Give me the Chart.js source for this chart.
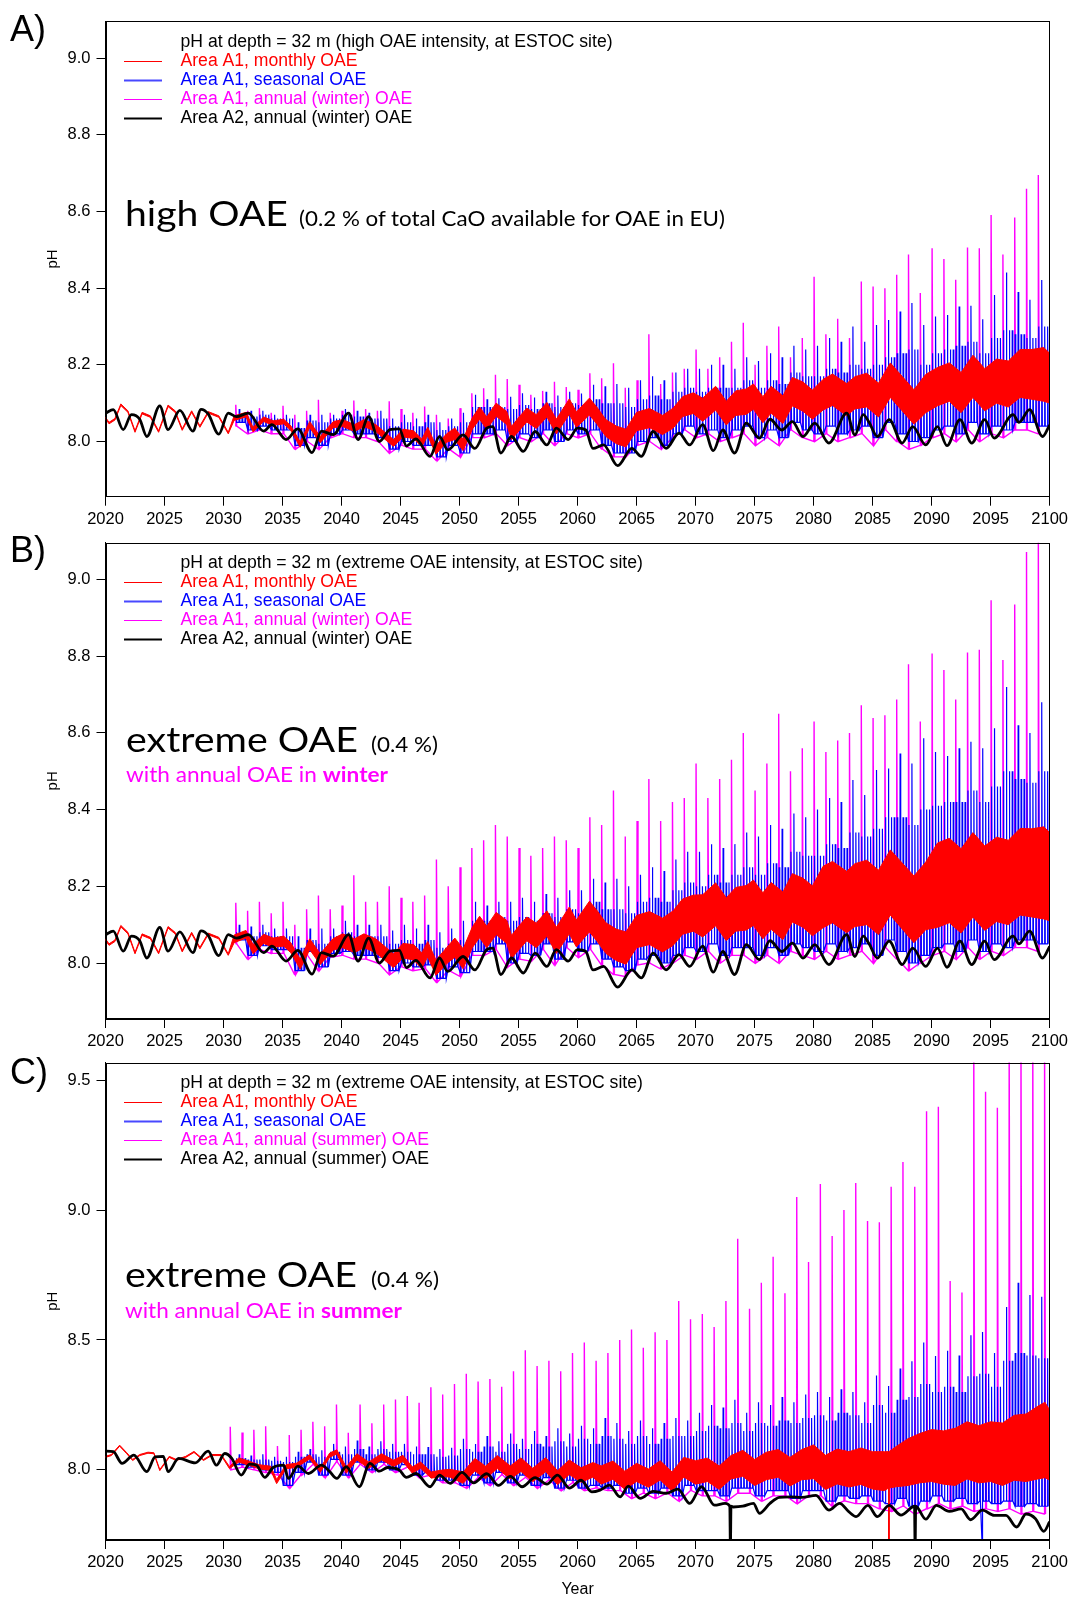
<!DOCTYPE html>
<html>
<head>
<meta charset="utf-8">
<script src="https://cdn.jsdelivr.net/npm/chart.js@4.4.1/dist/chart.umd.min.js"></script>
<style>
  html, body { margin: 0; padding: 0; background: #fff; }
  #page { position: relative; width: 1072px; height: 1599px; overflow: hidden; }
  canvas { position: absolute; left: 0; }
  .lbl { position: absolute; font-family: "Liberation Sans", Arial, sans-serif; font-size: 36px; line-height: 36px; color: #000; }
  .note { position: absolute; font-family: Lato, "Open Sans", sans-serif; white-space: nowrap; transform-origin: 0 0; color: #000; }
  .big { font-size: 35px; line-height: 35px; }
  .small { font-size: 21px; line-height: 21px; }
  .mag { font-size: 21px; line-height: 21px; color: #ff00ff; }
</style>
</head>
<body>
<div id="page">
  <canvas id="chartA" width="1072" height="545" style="top:0px"></canvas>
  <canvas id="chartB" width="1072" height="545" style="top:522px"></canvas>
  <canvas id="chartC" width="1072" height="558" style="top:1041px"></canvas>

  <div class="lbl" style="left:10px;top:11px">A)</div>
  <div class="lbl" style="left:10px;top:532px">B)</div>
  <div class="lbl" style="left:10px;top:1054px">C)</div>

  <div class="note big" data-w="163" style="left:125px;top:195px">high OAE</div>
  <div class="note small" data-w="426" style="left:299px;top:207px">(0.2 % of total CaO available for OAE in EU)</div>

  <div class="note big" data-w="232" style="left:126px;top:721px">extreme OAE</div>
  <div class="note small" data-w="67" style="left:371px;top:733px">(0.4 %)</div>
  <div class="note mag" data-w="262" style="left:126px;top:763px">with annual OAE in <b>winter</b></div>

  <div class="note big" data-w="232" style="left:125px;top:1256px">extreme OAE</div>
  <div class="note small" data-w="68" style="left:371px;top:1268px">(0.4 %)</div>
  <div class="note mag" data-w="277" style="left:125px;top:1299px">with annual OAE in <b>summer</b></div>
</div>

<script>
// tick labels
const xTicks = [2020, 2025, 2030, 2035, 2040, 2045, 2050, 2055, 2060, 2065, 2070, 2075, 2080, 2085, 2090, 2095, 2100];
const yTicksAB = [8.0, 8.2, 8.4, 8.6, 8.8, 9.0];
const yTicksC = [8.0, 8.5, 9.0, 9.5];

// black: Area A2 (traced points [year, pH])
const blackWinter = [[2020.0,8.074],[2020.66,8.083],[2021.5,8.031],[2022.2,8.07],[2022.9,8.058],[2023.5,8.013],[2024.6,8.093],[2025.3,8.031],[2026.3,8.081],[2027.4,8.027],[2028.1,8.084],[2028.7,8.072],[2029.6,8.019],[2030.4,8.074],[2031.1,8.065],[2032.1,8.074],[2033.4,8.027],[2034.1,8.044],[2035.3,8.005],[2036.3,8.033],[2037.5,7.971],[2038.3,8.027],[2039.3,8.018],[2040.6,8.074],[2041.4,8.005],[2042.3,8.065],[2043.2,8.0],[2044.1,8.031],[2044.9,8.033],[2045.5,7.988],[2046.3,8.007],[2047.5,7.961],[2048.3,8.013],[2049.0,7.978],[2050.3,8.017],[2051.3,7.982],[2052.3,8.035],[2052.8,8.039],[2053.5,7.970],[2054.4,8.013],[2055.4,7.974],[2056.4,8.026],[2057.4,7.991],[2058.2,8.035],[2059.2,8.005],[2060.0,8.035],[2060.7,8.03],[2061.3,7.982],[2062.2,7.991],[2063.4,7.937],[2064.6,7.982],[2065.4,7.961],[2066.4,8.026],[2067.5,7.982],[2068.6,8.022],[2069.5,7.991],[2070.6,8.044],[2071.5,7.976],[2072.3,8.03],[2073.3,7.970],[2074.3,8.048],[2075.4,8.009],[2076.3,8.058],[2077.3,8.03],[2078.2,8.052],[2079.1,8.013],[2080.1,8.048],[2081.3,7.996],[2082.8,8.074],[2083.5,8.017],[2084.2,8.07],[2084.7,8.05],[2085.4,8.013],[2086.4,8.057],[2087.5,7.996],[2088.4,8.039],[2089.5,7.991],[2090.5,8.039],[2091.3,7.989],[2092.4,8.057],[2093.4,7.996],[2094.5,8.057],[2095.3,8.009],[2096.9,8.07],[2097.4,8.05],[2098.3,8.083],[2099.4,8.013],[2100.0,8.043]];
const blackSummer = [[2020.0,8.072],[2020.66,8.07],[2021.4,8.025],[2022.4,8.057],[2023.5,7.993],[2024.2,8.05],[2024.9,8.052],[2025.3,7.993],[2026.2,8.044],[2027.6,8.027],[2028.7,8.072],[2029.4,8.018],[2030.1,8.063],[2030.7,8.044],[2031.5,7.98],[2032.2,8.022],[2032.8,8.018],[2033.5,7.971],[2034.2,8.009],[2035.1,8.018],[2035.5,7.967],[2036.3,8.014],[2037.2,7.986],[2038.3,8.018],[2039.0,7.993],[2039.6,7.967],[2040.4,8.012],[2041.5,7.935],[2042.4,8.025],[2043.2,7.995],[2043.9,8.009],[2044.9,7.999],[2045.5,7.971],[2046.3,7.986],[2047.5,7.935],[2048.3,7.98],[2049.2,7.948],[2050.2,7.99],[2051.2,7.95],[2052.3,7.985],[2053.3,7.94],[2054.3,7.975],[2055.3,7.935],[2056.4,7.97],[2057.4,7.945],[2058.3,7.98],[2059.3,7.93],[2060.3,7.96],[2061.2,7.915],[2061.9,7.922],[2062.7,7.941],[2063.6,7.896],[2064.3,7.937],[2065.3,7.89],[2066.4,7.917],[2067.5,7.91],[2068.5,7.926],[2069.5,7.871],[2070.5,7.935],[2071.6,7.864],[2072.5,7.871],[2072.9,7.86],[2072.95,7.70],[2073.0,7.86],[2073.2,7.857],[2074.0,7.86],[2074.9,7.871],[2075.4,7.833],[2076.3,7.871],[2077.1,7.894],[2078.1,7.896],[2079.0,7.894],[2080.2,7.902],[2081.3,7.845],[2082.2,7.871],[2083.0,7.838],[2083.6,7.82],[2084.6,7.863],[2085.4,7.82],[2086.4,7.863],[2087.4,7.826],[2088.55,7.86],[2088.6,7.70],[2088.65,7.86],[2089.5,7.81],[2090.4,7.863],[2091.5,7.84],[2092.5,7.85],[2093.3,7.808],[2094.3,7.845],[2095.3,7.825],[2096.3,7.825],[2097.2,7.78],[2098.0,7.83],[2098.8,7.812],[2099.5,7.763],[2100.0,7.80]];

// red: Area A1 monthly OAE, band rows [year, low edge, high edge]
const redEarly = [[2020.0,8.059,8.063],[2020.3,8.046,8.05],[2020.8,8.056,8.06],[2021.3,8.094,8.098],[2021.9,8.076,8.08],[2022.5,8.024,8.028],[2023.1,8.072,8.076],[2023.8,8.063,8.067],[2024.5,8.024,8.028],[2025.3,8.091,8.095],[2025.9,8.076,8.08],[2026.5,8.029,8.033],[2027.3,8.076,8.08],[2028.0,8.037,8.041],[2028.7,8.074,8.078],[2029.6,8.063,8.067],[2030.4,8.02,8.024]];
const redLateA = [[2030.9,8.055,8.067],[2031.9,8.064,8.076],[2032.5,8.025,8.037],[2033.4,8.052,8.064],[2034.2,8.042,8.054],[2035.1,8.046,8.058],[2035.7,8.029,8.041],[2036.5,7.985,7.999],[2037.3,8.036,8.052],[2038.2,7.997,8.013],[2039.3,8.036,8.052],[2040.1,8.039,8.057],[2041.1,8.026,8.044],[2041.9,8.039,8.057],[2042.9,8.026,8.044],[2044.4,7.987,8.005],[2045.2,8.012,8.032],[2046.1,8.008,8.028],[2046.8,7.986,8.006],[2047.3,8.015,8.037],[2048.0,7.967,7.989],[2048.9,7.998,8.02],[2049.6,8.005,8.035],[2050.3,7.976,8.006],[2051.1,8.033,8.063],[2051.7,8.058,8.09],[2052.3,8.032,8.064],[2053.1,8.066,8.1],[2054.0,8.044,8.078],[2054.4,8.005,8.039],[2055.1,8.03,8.066],[2055.7,8.051,8.087],[2056.5,8.034,8.07],[2057.4,8.064,8.102],[2058.2,8.02,8.058],[2059.3,8.071,8.111],[2059.9,8.037,8.077],[2061.0,8.069,8.113],[2061.6,8.047,8.091],[2062.4,8.013,8.057],[2063.3,7.994,8.04],[2064.1,7.986,8.032],[2065.0,8.028,8.076],[2066.1,8.036,8.086],[2067.2,8.018,8.068],[2068.1,8.035,8.087],[2068.9,8.065,8.117],[2069.8,8.073,8.127],[2070.6,8.053,8.113],[2071.7,8.082,8.144],[2072.6,8.043,8.105],[2073.4,8.068,8.132],[2074.3,8.071,8.137],[2074.9,8.084,8.15],[2075.7,8.049,8.117],[2076.4,8.074,8.144],[2077.4,8.047,8.119],[2078.2,8.093,8.167],[2079.1,8.079,8.155],[2079.9,8.058,8.134],[2080.8,8.082,8.162],[2081.6,8.094,8.176],[2082.8,8.067,8.151],[2083.5,8.085,8.169],[2084.5,8.09,8.178],[2085.5,8.064,8.152],[2086.5,8.115,8.205],[2087.5,8.08,8.17],[2088.5,8.045,8.135],[2089.5,8.075,8.175],[2090.5,8.093,8.193],[2091.5,8.105,8.205],[2092.5,8.075,8.18],[2093.5,8.115,8.225],[2094.5,8.08,8.19],[2095.5,8.1,8.215],[2096.5,8.09,8.21],[2097.5,8.115,8.24],[2098.5,8.11,8.24],[2099.5,8.105,8.245],[2100.0,8.1,8.23]];
const redLateB = [[2030.9,8.053,8.073],[2031.9,8.065,8.085],[2032.5,8.024,8.048],[2033.4,8.051,8.075],[2034.2,8.041,8.065],[2035.1,8.044,8.07],[2035.7,8.027,8.053],[2036.5,7.984,8.01],[2037.3,8.035,8.063],[2038.2,7.996,8.024],[2039.3,8.034,8.064],[2040.1,8.04,8.076],[2041.1,8.027,8.063],[2041.9,8.04,8.076],[2042.9,8.027,8.063],[2044.4,7.988,8.024],[2045.2,8.013,8.051],[2046.1,8.008,8.048],[2046.8,7.986,8.026],[2047.3,8.016,8.056],[2048.0,7.968,8.008],[2048.9,7.998,8.04],[2049.6,8.015,8.065],[2050.3,7.985,8.037],[2051.1,8.041,8.095],[2051.7,8.066,8.122],[2052.3,8.04,8.096],[2053.1,8.074,8.132],[2054.0,8.051,8.111],[2054.4,8.012,8.072],[2055.1,8.037,8.099],[2055.7,8.058,8.12],[2056.5,8.04,8.104],[2057.4,8.07,8.136],[2058.2,8.025,8.093],[2059.3,8.076,8.146],[2059.9,8.042,8.112],[2061.0,8.081,8.161],[2061.6,8.059,8.139],[2062.4,8.025,8.105],[2063.3,8.006,8.088],[2064.1,7.997,8.081],[2065.0,8.04,8.124],[2066.1,8.048,8.134],[2067.2,8.029,8.117],[2068.1,8.046,8.136],[2068.9,8.075,8.167],[2069.8,8.083,8.177],[2070.6,8.068,8.178],[2071.7,8.097,8.209],[2072.6,8.058,8.17],[2073.4,8.083,8.197],[2074.3,8.086,8.202],[2074.9,8.098,8.216],[2075.7,8.063,8.183],[2076.4,8.088,8.21],[2077.4,8.061,8.185],[2078.2,8.107,8.233],[2079.1,8.093,8.221],[2079.9,8.071,8.201],[2080.8,8.092,8.252],[2081.6,8.105,8.265],[2082.8,8.079,8.239],[2083.5,8.095,8.259],[2084.5,8.1,8.268],[2085.5,8.074,8.242],[2086.5,8.125,8.295],[2087.5,8.089,8.261],[2088.5,8.053,8.227],[2089.5,8.087,8.263],[2090.5,8.093,8.313],[2091.5,8.105,8.325],[2092.5,8.078,8.298],[2093.5,8.12,8.34],[2094.5,8.085,8.305],[2095.5,8.108,8.328],[2096.5,8.1,8.32],[2097.5,8.125,8.351],[2098.5,8.12,8.35],[2099.5,8.115,8.355],[2100.0,8.11,8.34]];
const redC = [[2020.0,8.048,8.052],[2020.5,8.055,8.059],[2021.2,8.091,8.095],[2021.8,8.062,8.066],[2022.3,8.036,8.04],[2022.9,8.055,8.059],[2023.6,8.064,8.068],[2024.1,8.062,8.066],[2024.6,7.997,8.001],[2025.4,8.048,8.052],[2026.0,8.036,8.04],[2026.8,8.048,8.052],[2027.5,8.067,8.071],[2028.3,8.036,8.04],[2029.0,8.055,8.059],[2029.8,8.055,8.059],[2030.5,8.005,8.013],[2031.3,8.03,8.046],[2032.2,8.017,8.033],[2033.0,8.004,8.02],[2034.0,7.998,8.014],[2034.5,7.947,7.963],[2035.3,8.004,8.02],[2036.2,8.01,8.026],[2037.3,8.042,8.058],[2038.2,7.991,8.007],[2039.0,8.049,8.065],[2039.6,8.061,8.077],[2040.4,7.987,8.011],[2041.3,8.038,8.062],[2042.3,8.006,8.03],[2043.4,8.038,8.062],[2044.4,8.013,8.037],[2045.2,8.032,8.056],[2046.0,7.987,8.011],[2046.7,8.006,8.03],[2047.6,7.968,7.992],[2048.5,7.975,7.999],[2049.2,7.972,8.002],[2050.3,7.948,7.992],[2051.3,7.996,8.044],[2052.2,7.966,8.014],[2053.2,8.005,8.055],[2054.3,7.965,8.015],[2055.2,7.994,8.046],[2056.2,7.954,8.006],[2057.3,7.993,8.047],[2058.3,7.943,7.997],[2059.3,7.982,8.038],[2060.3,7.952,8.008],[2061.3,7.972,8.028],[2062.0,7.945,8.015],[2063.0,7.964,8.034],[2064.0,7.925,7.995],[2065.0,7.955,8.025],[2066.0,7.933,8.003],[2067.0,7.961,8.035],[2068.0,7.918,7.992],[2069.0,7.972,8.048],[2070.0,7.945,8.035],[2071.0,7.955,8.045],[2072.0,7.925,8.015],[2073.0,7.965,8.055],[2074.0,7.975,8.075],[2075.0,7.94,8.04],[2076.0,7.962,8.068],[2077.0,7.972,8.078],[2078.0,7.938,8.048],[2079.0,7.962,8.078],[2080.0,7.966,8.096],[2081.0,7.924,8.056],[2082.0,7.946,8.08],[2083.0,7.934,8.07],[2084.0,7.944,8.084],[2085.0,7.926,8.07],[2086.0,7.92,8.07],[2086.35,7.93,8.07],[2086.37,7.70,7.70],[2086.39,7.93,8.07],[2087.0,7.935,8.09],[2088.0,7.94,8.12],[2089.0,7.95,8.14],[2090.0,7.955,8.155],[2091.0,7.945,8.15],[2092.0,7.94,8.16],[2093.0,7.965,8.185],[2094.0,7.95,8.17],[2095.0,7.955,8.185],[2096.0,7.94,8.18],[2097.0,7.96,8.21],[2098.0,7.955,8.215],[2099.0,7.965,8.245],[2099.6,7.97,8.26],[2100.0,7.96,8.23]];

// blue: Area A1 seasonal OAE, one value per year from 2031 (low, tallest spike, typical spike)
const blueLowA = [8.05,8.03,8.04,8.03,8.03,7.99,8.01,7.99,8.02,8.03, 8.02,8.02,8.01,7.98,8.0,7.99,7.99,7.96,7.99,7.97, 8.02,8.02,8.03,8.0,8.02,8.01,8.03,8.0,8.03,8.02, 8.03,7.99,7.97,7.97,8.0,8.01,7.99,8.02,8.04,8.02, 8.03,8.01,8.03,8.04,8.01,8.03,8.01,8.05,8.03,8.02, 8.04,8.02,8.03,8.04,8.01,8.05,8.02,8.0,8.01,8.03, 8.04,8.02,8.05,8.02,8.04,8.03,8.05,8.05,8.04];
const blueTopA = [8.085,8.08,8.08,8.07,8.07,8.05,8.07,8.07,8.07,8.085,8.08,8.075,8.08,8.06,8.07,8.06,8.07,8.05,8.06, 8.075,8.122,8.11,8.113,8.117,8.126,8.115,8.13,8.12,8.13,8.125,8.148,8.144, 8.15,8.14,8.16,8.17,8.16,8.18,8.19,8.19,8.2,8.2,8.19,8.22,8.21,8.23,8.22,8.25,8.24,8.25,8.27,8.26,8.3, 8.26,8.304,8.317,8.339,8.361,8.304,8.326,8.33,8.352,8.354,8.319,8.382,8.441,8.39,8.37,8.421];
const blueMidA = [8.07,8.065,8.07,8.06,8.06,8.035,8.055,8.05,8.06,8.07, 8.065,8.06,8.06,8.04,8.05,8.04,8.05,8.03,8.04,8.05, 8.09,8.09,8.09,8.085,8.095,8.085,8.1,8.09,8.1,8.095, 8.11,8.1,8.1,8.09,8.11,8.12,8.11,8.13,8.14,8.13, 8.14,8.14,8.14,8.16,8.14,8.16,8.15,8.18,8.17,8.17, 8.19,8.18,8.2,8.19,8.2,8.22,8.23,8.24,8.2,8.23, 8.24,8.25,8.26,8.23,8.27,8.29,8.28,8.27,8.3];
const blueLowB = [8.06,8.02,8.045,8.035,8.035,7.98,8.03,7.99,8.025,8.03, 8.02,8.02,8.015,7.98,8.0,7.99,7.995,7.96,7.99,7.975, 8.03,8.03,8.05,8.0,8.025,8.02,8.05,8.01,8.055,8.03, 8.05,8.01,7.99,7.98,8.01,8.02,8.0,8.02,8.04,8.03, 8.05,8.02,8.04,8.04,8.02,8.04,8.02,8.05,8.04,8.03, 8.05,8.03,8.04,8.05,8.02,8.06,8.03,8.0,8.02,8.04, 8.05,8.03,8.06,8.03,8.05,8.04,8.06,8.06,8.05];
const blueTopB = [8.1,8.095,8.1,8.09,8.09,8.07,8.09,8.09,8.09,8.11, 8.1,8.1,8.1,8.085,8.1,8.09,8.1,8.08,8.09,8.11, 8.16,8.15,8.16,8.16,8.17,8.16,8.18,8.17,8.19,8.19, 8.22,8.21,8.22,8.2,8.23,8.25,8.24,8.27,8.29,8.29, 8.31,8.3,8.31,8.34,8.33,8.36,8.35,8.39,8.38,8.4, 8.43,8.42,8.477,8.438,8.503,8.507,8.546,8.52,8.586,8.55, 8.54,8.56,8.577,8.56,8.612,8.72,8.62,8.6,8.68];
const blueMidB = [8.08,8.07,8.08,8.07,8.07,8.04,8.06,8.05,8.07,8.08, 8.07,8.07,8.07,8.05,8.06,8.05,8.06,8.04,8.05,8.06, 8.11,8.11,8.12,8.11,8.12,8.11,8.13,8.12,8.14,8.13, 8.16,8.14,8.14,8.13,8.16,8.17,8.16,8.19,8.21,8.2, 8.23,8.21,8.23,8.25,8.23,8.26,8.25,8.29,8.28,8.28, 8.31,8.3,8.34,8.33,8.35,8.38,8.38,8.36,8.4,8.41, 8.42,8.42,8.45,8.42,8.46,8.5,8.48,8.47,8.5];
const blueLowC = [8.02,8.01,8.0,7.99,7.94,7.99,8.03,7.98,8.04,7.98,8.03,8.0,8.03,8.0,8.02,7.98,7.99,7.96,7.96, 7.94,7.98,7.95,7.99,7.95,7.98,7.94,7.97,7.93,7.96,7.93,7.94,7.93, 7.94,7.91,7.93,7.91,7.93,7.9,7.94,7.92,7.92,7.9,7.93,7.93,7.9,7.92,7.92,7.89,7.92,7.92,7.88,7.9,7.89, 7.9,7.88,7.87,7.89,7.86,7.88,7.9,7.88,7.89,7.87,7.88,7.87,7.88,7.86,7.87,7.86];
const blueTopC = [8.06,8.055,8.06,8.05,8.05,8.07,8.08,8.075,8.1,8.09,8.113,8.09,8.11,8.1,8.1,8.09,8.088,8.08,8.085, 8.12,8.1,8.13,8.11,8.14,8.12,8.15,8.13,8.16,8.14,8.17,8.16,8.2, 8.18,8.15,8.19,8.16,8.18,8.2,8.19,8.22,8.25,8.24,8.27,8.22,8.26,8.25,8.28,8.26,8.29,8.3,8.28,8.31,8.3, 8.26,8.363,8.323,8.39,8.418,8.49,8.438,8.458,8.44,8.518,8.531,8.45,8.627,8.72,8.673,8.666];
const blueMidC = [8.045,8.04,8.04,8.035,8.03,8.05,8.06,8.05,8.07,8.06,8.08,8.06,8.08,8.07,8.07,8.06,8.06,8.05,8.055, 8.08,8.07,8.09,8.07,8.1,8.08,8.1,8.09,8.11,8.09,8.12,8.1,8.13, 8.12,8.1,8.13,8.1,8.12,8.13,8.13,8.15,8.17,8.16,8.18,8.15,8.18,8.17,8.19,8.18,8.2,8.21,8.19,8.22,8.21, 8.18,8.25,8.22,8.27,8.28,8.33,8.3,8.32,8.3,8.36,8.37,8.32,8.42,8.45,8.44,8.43];
const blueGlitchC = [[2094.3, 7.70]];

// magenta: Area A1 annual OAE, one value per year (low before the spike, spike top)
const magLowA = [8.04,8.02,8.03,8.02,8.02,7.98,8.0,7.98,8.01,8.02, 8.01,8.01,8.0,7.97,7.99,7.98,7.98,7.95,7.98,7.96, 8.01,8.01,8.02,7.99,8.01,8.0,8.02,7.99,8.02,8.01, 8.02,7.98,7.96,7.96,7.99,8.0,7.98,8.01,8.03,8.01, 8.02,8.0,8.01,8.02,7.99,8.01,7.99,8.03,8.01,8.0, 8.02,8.0,8.01,8.02,7.99,8.03,8.0,7.98,7.99,8.01, 8.02,8.0,8.03,8.0,8.02,8.01,8.03,8.03,8.02];
const magPeakA = [8.096,8.08,8.087,8.075,8.093,8.07,8.08,8.109,8.075,8.08,8.107,8.085,8.08,8.105,8.085,8.075,8.091,8.07,8.06, 8.087,8.126,8.139,8.174,8.163,8.148,8.122,8.132,8.156,8.142,8.135,8.178,8.165, 8.204,8.14,8.16,8.28,8.15,8.18,8.19,8.24,8.19,8.22,8.26,8.31,8.2,8.25,8.3,8.22,8.27,8.43,8.28,8.32,8.27, 8.417,8.404,8.40,8.435,8.488,8.387,8.504,8.476,8.422,8.506,8.504,8.591,8.488,8.584,8.659,8.695];
const magLowB = [8.05,8.01,8.035,8.025,8.025,7.97,8.02,7.98,8.015,8.02, 8.01,8.01,8.0,7.97,7.99,7.98,7.985,7.95,7.98,7.965, 8.02,8.02,8.035,7.99,8.01,8.005,8.035,7.995,8.04,8.015, 8.035,7.995,7.97,7.965,7.995,8.0,7.985,8.0,8.02,8.01, 8.03,8.0,8.02,8.02,8.0,8.02,8.0,8.03,8.02,8.01, 8.03,8.01,8.02,8.03,8.0,8.04,8.01,7.98,8.0,8.02, 8.03,8.01,8.04,8.01,8.03,8.02,8.04,8.04,8.03];
const magPeakB = [8.157,8.136,8.16,8.13,8.16,8.1,8.14,8.176,8.14,8.15,8.229,8.16,8.16,8.2,8.17,8.16,8.176,8.27,8.2, 8.25,8.3,8.32,8.36,8.33,8.3,8.28,8.3,8.33,8.32,8.3,8.38,8.36, 8.45,8.33,8.37,8.48,8.37,8.42,8.43,8.52,8.43,8.48,8.53,8.6,8.45,8.52,8.65,8.5,8.56,8.63,8.55,8.58,8.6, 8.672,8.639,8.646,8.687,8.779,8.63,8.807,8.764,8.687,8.81,8.817,8.946,8.79,8.935,9.072,9.15];
const magLowC = [8.0, 8.01,8.0,7.99,7.98,7.93,7.98,8.02,7.97,8.03,7.97,8.02,7.99,8.02,7.99,8.01,7.97,7.98,7.95,7.95, 7.93,7.97,7.94,7.98,7.94,7.97,7.93,7.96,7.92,7.95,7.92,7.93,7.92, 7.92,7.89,7.91,7.89,7.91,7.88,7.92,7.9,7.9,7.88,7.91,7.91,7.88,7.9,7.9,7.87,7.9,7.9,7.86,7.88,7.87, 7.87,7.85,7.84,7.86,7.83,7.85,7.87,7.85,7.86,7.84,7.85,7.84,7.85,7.83,7.84,7.83];
const magPeakC = [8.166,8.144,8.154,8.168,8.092,8.134,8.154,8.185,8.168,8.252,8.143,8.252,8.179,8.252,8.271,8.284,8.258,8.318,8.29, 8.33,8.37,8.34,8.35,8.32,8.38,8.46,8.4,8.42,8.38,8.45,8.49,8.42,8.45, 8.5,8.54,8.47,8.53,8.5,8.65,8.58,8.6,8.55,8.65,8.89,8.62,8.72,8.82,8.68,9.05,8.8,9.1,8.9,9.0, 9.104,8.958,8.953,9.09,9.185,9.09,9.38,9.398,8.727,8.683,9.7,9.455,9.394,9.7,9.7,9.7,9.7];

Chart.defaults.font.family = '"Liberation Sans", Arial, Helvetica, sans-serif';
Chart.defaults.color = '#000';

const toXY = rows => rows.map(r => ({x: r[0], y: r[1]}));
const bandEdge = (rows, k) => rows.map(r => ({x: r[0], y: r[k]}));

// one spike per year (annual OAE)
function annualSeries(start, lows, peaks, phase) {
  const pts = [];
  peaks.forEach((pk, i) => {
    const t = start + i + phase;
    const lo = lows[Math.min(i, lows.length - 1)];
    pts.push({x: t, y: lo}, {x: t + 0.02, y: pk}, {x: t + 0.1, y: lo});
  });
  return pts;
}

// four spikes per year (seasonal OAE)
function seasonalSeries(start, lows, tops, mids, extra) {
  const pts = [];
  tops.forEach((top, i) => {
    const lo = lows[Math.min(i, lows.length - 1)];
    const mid = mids[Math.min(i, mids.length - 1)];
    [mid, top, mid, mid].forEach((h, q) => {
      const t = start + i + q * 0.25 + 0.06;
      pts.push({x: t, y: lo}, {x: t + 0.02, y: h}, {x: t + 0.07, y: lo});
    });
  });
  (extra || []).forEach(g => pts.push({x: g[0] - 0.01, y: g[1]}, {x: g[0], y: g[1]}));
  pts.sort((a, b) => a.x - b.x);
  return pts;
}

const frame = {
  id: 'frame',
  afterDraw(chart) {
    const {ctx, chartArea: a} = chart;
    ctx.save();
    ctx.strokeStyle = '#000';
    ctx.lineWidth = 1;
    const l = Math.round(a.left) + 0.5, t = Math.round(a.top) + 0.5;
    const r = Math.round(a.right) - 0.5, b = Math.round(a.bottom) - 0.5;
    ctx.strokeRect(l, t, r - l, b - t);
    ctx.restore();
  }
};

const panelLegend = {
  id: 'panelLegend',
  afterDraw(chart, args, opts) {
    const {ctx, chartArea: a} = chart;
    ctx.save();
    ctx.font = '17.6px "Liberation Sans", Arial, sans-serif';
    ctx.textBaseline = 'middle';
    ctx.fillStyle = '#000';
    ctx.fillText(opts.title, 180.5, a.top + 20.4);
    opts.items.forEach((it, i) => {
      const y = a.top + 39.4 + i * 19.1;
      ctx.strokeStyle = it.line;
      ctx.lineWidth = it.width;
      ctx.beginPath();
      ctx.moveTo(124, Math.round(y) + 0.5);
      ctx.lineTo(162, Math.round(y) + 0.5);
      ctx.stroke();
      ctx.fillStyle = it.color;
      ctx.fillText(it.text, 180.5, y);
    });
    ctx.restore();
  }
};

function line(data, color, width, extra) {
  return Object.assign({data, borderColor: color, backgroundColor: color, borderWidth: width,
    pointRadius: 0, tension: 0, fill: false}, extra || {});
}

function makePanel(id, p) {
  const datasets = [
    line(toXY(p.black), '#000', 2.8, {cubicInterpolationMode: 'monotone'}),
    line(bandEdge(p.red, 2), '#ff0000', 1),
    line(bandEdge(p.red, 1), '#ff0000', 1, {fill: '-1'}),
    line(p.blue, '#0000ff', 1.2),
    line(p.mag, '#ff00ff', 1.4)
  ];
  new Chart(document.getElementById(id), {
    type: 'line',
    data: {datasets},
    options: {
      responsive: false,
      maintainAspectRatio: false,
      devicePixelRatio: 1,
      animation: false,
      events: [],
      parsing: false,
      normalized: true,
      layout: {padding: {left: 44, right: 21.5, top: p.top, bottom: 0}},
      plugins: {
        legend: {display: false},
        tooltip: {enabled: false},
        panelLegend: p.legend
      },
      scales: {
        x: {
          type: 'linear', min: 2020, max: 2100,
          afterBuildTicks: s => { s.ticks = xTicks.map(v => ({value: v})); },
          afterFit: s => { s.height = p.xHeight; },
          ticks: {autoSkip: false, maxRotation: 0, padding: 4, font: {size: 16.5}, color: '#000', callback: v => String(v)},
          grid: {display: true, drawOnChartArea: false, drawTicks: true, tickLength: 9, tickColor: '#000', color: '#000'},
          border: {display: true, color: '#000', width: 1},
          title: {display: !!p.xTitle, text: p.xTitle || '', font: {size: 16}, color: '#000', padding: {top: 0, bottom: 0}}
        },
        y: {
          type: 'linear', min: p.yMin, max: p.yMax,
          afterBuildTicks: s => { s.ticks = p.yTicks.map(v => ({value: v})); },
          afterFit: s => { s.width = 105.5 - 44; },
          ticks: {padding: 6, font: {size: 16.5}, color: '#000', callback: v => Number(v).toFixed(1)},
          grid: {display: true, drawOnChartArea: false, drawTicks: true, tickLength: 9, tickColor: '#000', color: '#000'},
          border: {display: true, color: '#000', width: 1},
          title: {display: true, text: 'pH', font: {size: 15}, color: '#000', padding: {top: 0, bottom: 0}}
        }
      }
    },
    plugins: [frame, panelLegend]
  });
}

function legendFor(intensity, season) {
  return {
    title: 'pH at depth = 32 m (' + intensity + ' OAE intensity, at ESTOC site)',
    items: [
      {text: 'Area A1, monthly OAE', color: '#ff0000', line: '#ff0000', width: 1.1},
      {text: 'Area A1, seasonal OAE', color: '#0000ff', line: '#4848ff', width: 2},
      {text: 'Area A1, annual (' + season + ') OAE', color: '#ff00ff', line: '#ff00ff', width: 1.1},
      {text: 'Area A2, annual (' + season + ') OAE', color: '#000', line: '#000', width: 2.2}
    ]
  };
}

makePanel('chartA', {
  top: 21.3, xHeight: 545 - 496.7, yMin: 7.856, yMax: 9.096, yTicks: yTicksAB,
  black: blackWinter, red: redEarly.concat(redLateA),
  blue: seasonalSeries(2031, blueLowA, blueTopA, blueMidA),
  mag: annualSeries(2031, magLowA, magPeakA, 0.02),
  legend: legendFor('high', 'winter')
});
makePanel('chartB', {
  top: 20.7, xHeight: 545 - 497, yMin: 7.854, yMax: 9.096, yTicks: yTicksAB,
  black: blackWinter, red: redEarly.concat(redLateB),
  blue: seasonalSeries(2031, blueLowB, blueTopB, blueMidB),
  mag: annualSeries(2031, magLowB, magPeakB, 0.02),
  legend: legendFor('extreme', 'winter')
});
makePanel('chartC', {
  top: 21.5, xHeight: 558 - 499, yMin: 7.73, yMax: 9.568, yTicks: yTicksC, xTitle: 'Year',
  black: blackSummer, red: redC,
  blue: seasonalSeries(2031, blueLowC, blueTopC, blueMidC, blueGlitchC),
  mag: annualSeries(2030, magLowC, magPeakC, 0.55),
  legend: legendFor('extreme', 'summer')
});

// the boxed notes are stretched horizontally in the original figure
document.querySelectorAll('.note').forEach(el => {
  const w = el.getBoundingClientRect().width;
  el.style.transform = 'scaleX(' + (parseFloat(el.dataset.w) / w).toFixed(3) + ')';
});
</script>
</body>
</html>
